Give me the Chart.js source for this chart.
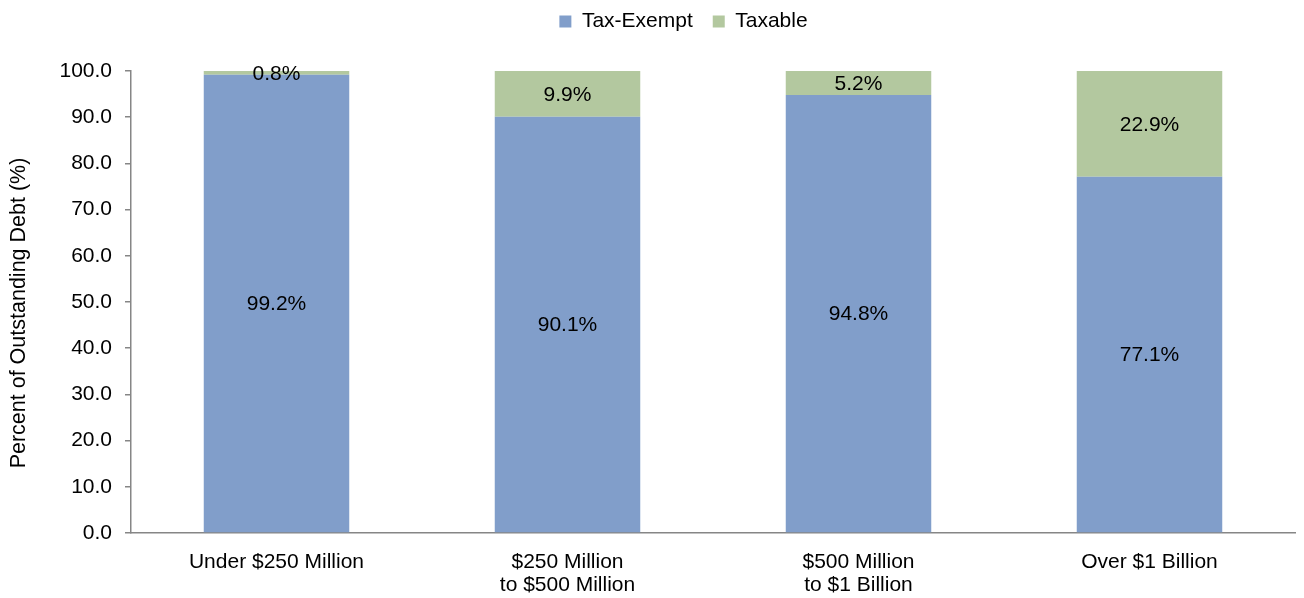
<!DOCTYPE html>
<html>
<head>
<meta charset="utf-8">
<script src="https://cdn.jsdelivr.net/npm/chart.js@4/dist/chart.umd.min.js"></script>
<style>
  html, body { margin: 0; padding: 0; background: #ffffff; }
  #wrap { width: 1304px; height: 598px; position: relative; }
</style>
</head>
<body>
<div id="wrap"><canvas id="c"></canvas></div>
<script>
// Share of outstanding debt by issuer size, split into tax-exempt and taxable
const categories = [
  'Under $250 Million',
  ['$250 Million', 'to $500 Million'],
  ['$500 Million', 'to $1 Billion'],
  'Over $1 Billion'
];
const taxExempt = [99.2, 90.1, 94.8, 77.1];
const taxable = [0.8, 9.9, 5.2, 22.9];
const yTicks = [0, 10, 20, 30, 40, 50, 60, 70, 80, 90, 100];
const yTitle = 'Percent of Outstanding Debt (%)';

const FONT = "'Liberation Sans', Arial, sans-serif";
const AXIS_GRAY = '#868686';

// Writes each segment's percentage in the middle of its bar piece
const segmentLabels = {
  id: 'segmentLabels',
  afterDatasetsDraw(chart) {
    const ctx = chart.ctx;
    ctx.save();
    ctx.font = '21px ' + FONT;
    ctx.fillStyle = '#000000';
    ctx.textAlign = 'center';
    ctx.textBaseline = 'middle';
    chart.data.datasets.forEach((ds, di) => {
      const meta = chart.getDatasetMeta(di);
      meta.data.forEach((bar, i) => {
        const v = ds.data[i];
        const yMid = (bar.y + bar.base) / 2;
        ctx.fillText(v.toFixed(1) + '%', bar.x, yMid + 1);
      });
    });
    ctx.restore();
  }
};

// Vertical axis title, set a little below the plot's midpoint
const axisTitle = {
  id: 'axisTitle',
  afterDraw(chart) {
    const ctx = chart.ctx;
    const area = chart.chartArea;
    ctx.save();
    ctx.font = '21.5px ' + FONT;
    ctx.fillStyle = '#000000';
    ctx.textAlign = 'center';
    ctx.textBaseline = 'middle';
    ctx.translate(19, (area.top + area.bottom) / 2 + 11);
    ctx.rotate(-Math.PI / 2);
    ctx.fillText(yTitle, 0, 0);
    ctx.restore();
  }
};

// Gives the legend a taller band above the plot and nudges it right
const legendBand = {
  id: 'legendBand',
  beforeLayout(chart) {
    const lg = chart.legend;
    if (lg && !lg._bandPatched) {
      const origFit = lg.fit.bind(lg);
      lg.fit = function () {
        origFit();
        this.height = 80;
      };
      lg._bandPatched = true;
    }
  },
  afterLayout(chart) {
    const lg = chart.legend;
    if (lg) {
      lg.left += 36;
      lg.right += 36;
    }
  }
};

new Chart(document.getElementById('c'), {
  type: 'bar',
  data: {
    labels: categories,
    datasets: [
      { label: 'Tax-Exempt', data: taxExempt, backgroundColor: '#819ECA', borderWidth: 0 },
      { label: 'Taxable', data: taxable, backgroundColor: '#B3C89F', borderWidth: 0 }
    ]
  },
  options: {
    responsive: true,
    maintainAspectRatio: false,
    animation: false,
    layout: { padding: { left: 0, right: 9, top: -9, bottom: 0 } },
    datasets: { bar: { categoryPercentage: 1.0, barPercentage: 0.5 } },
    plugins: {
      tooltip: { enabled: false },
      legend: {
        position: 'top',
        align: 'center',
        labels: {
          font: { family: FONT, size: 21 },
          color: '#000000',
          boxWidth: 12,
          boxHeight: 12,
          padding: 20
        }
      }
    },
    scales: {
      x: {
        stacked: true,
        grid: { display: false },
        border: { display: true, color: AXIS_GRAY, width: 1.5 },
        ticks: {
          font: { family: FONT, size: 21, lineHeight: 1.12 },
          color: '#000000',
          padding: 9,
          maxRotation: 0,
          autoSkip: false
        },
        afterFit(scale) { scale.height = 65; }
      },
      y: {
        stacked: true,
        min: 0,
        max: 100,
        afterBuildTicks(scale) { scale.ticks = yTicks.map(v => ({ value: v })); },
        grid: {
          display: true,
          drawOnChartArea: false,
          drawTicks: true,
          tickLength: 6,
          color: AXIS_GRAY,
          lineWidth: 1.5
        },
        border: { display: true, color: AXIS_GRAY, width: 1.5 },
        ticks: {
          font: { family: FONT, size: 21 },
          color: '#000000',
          padding: 13,
          callback: (v) => Number(v).toFixed(1)
        },
        title: { display: false },
        afterFit(scale) { scale.width = 131; }
      }
    }
  },
  plugins: [legendBand, axisTitle, segmentLabels]
});
</script>
</body>
</html>
